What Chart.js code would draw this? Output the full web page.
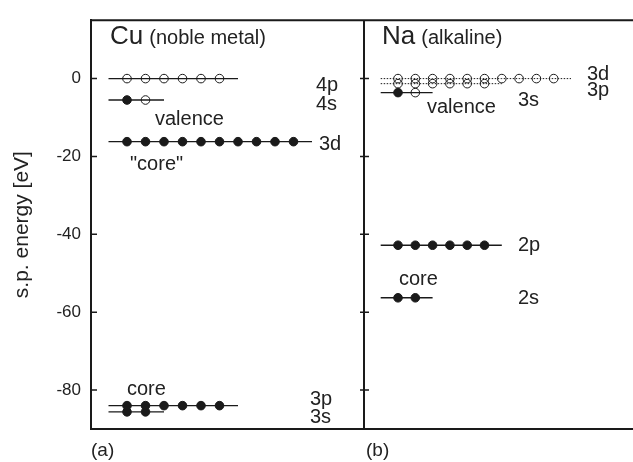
<!DOCTYPE html>
<html>
<head>
<meta charset="utf-8">
<script src="https://cdn.jsdelivr.net/npm/chart.js@4.4.0/dist/chart.umd.min.js"></script>
<style>
  html, body { margin: 0; padding: 0; background: #fff; }
</style>
</head>
<body>
<canvas id="myChart" width="633" height="462"></canvas>
<script>
// single-particle levels, energies in eV
const cuLevels = ['4p', '4s', '3d', '3p', '3s'];
const cuEnergy = [0, -5.5, -16.2, -84.0, -85.6];
const cuStates = [6, 2, 10, 6, 2];
const cuFilled = [0, 1, 10, 6, 2];

const naLevels = ['3d', '3p', '3s', '2p', '2s'];
const naEnergy = [0, -1.3, -3.6, -42.8, -56.3];
const naStates = [10, 6, 2, 6, 2];
const naFilled = [0, 0, 1, 6, 2];
const naDotted = [true, true, false, false, false];

const yTicks = [0, -20, -40, -60, -80];

// layout (x in px from the left axis)
const FONT = '"Liberation Sans", Arial, sans-serif';
const INK = '#1a1a1a';
const cuPanel = { origin: 36, step: 18.5, labelX: [225, 225, 228, 219, 219], labelDy: [7, 4, 3, -6, 6] };
const naPanel = { origin: 307, step: 17.3, labelX: [496, 496, 427, 427, 427], labelDy: [-4, 7, 8, 0, 1] };
const divider = 273;

function levelSets(names, energy, states, filled, dotted, p) {
    return names.map((name, k) => {
        var pts = [{ x: p.origin - p.step, y: energy[k] }];
        for (let i = 0; i < states[k]; i++) {
            pts.push({ x: p.origin + i * p.step, y: energy[k] });
        }
        pts.push({ x: p.origin + states[k] * p.step, y: energy[k] });
        var dot = dotted && dotted[k];
        return {
            label: name,
            data: pts,
            showLine: true,
            borderColor: INK,
            borderWidth: dot ? 1 : 1.4,
            borderDash: dot ? [1.5, 1.5] : [],
            pointRadius: pts.map((_, i) => (i === 0 || i === pts.length - 1) ? 0 : 4.3),
            pointBackgroundColor: pts.map((_, i) => (i >= 1 && i <= filled[k]) ? INK : 'rgba(0,0,0,0)'),
            pointBorderColor: INK,
            pointBorderWidth: 1
        };
    });
}

// free text, in x px / y eV
const notes = [
    { text: 'valence', x: 64, y: -10.6 },
    { text: '"core"', x: 39, y: -22.0 },
    { text: 'core', x: 36, y: -79.9 },
    { text: 'valence', x: 336, y: -7.4 },
    { text: 'core', x: 308, y: -51.5 }
];

const decor = {
    id: 'decor',
    afterDraw(chart) {
        const ctx = chart.ctx;
        const a = chart.chartArea;
        const xs = chart.scales.x;
        const ys = chart.scales.y;
        ctx.save();
        ctx.strokeStyle = INK;
        ctx.lineWidth = 2;
        ctx.beginPath();
        ctx.moveTo(a.left - 1, a.top);
        ctx.lineTo(a.right, a.top);
        const dx = xs.getPixelForValue(divider);
        ctx.moveTo(dx, a.top);
        ctx.lineTo(dx, a.bottom);
        ctx.stroke();

        // tick marks
        ctx.lineWidth = 1.5;
        ctx.beginPath();
        for (const v of yTicks) {
            const py = ys.getPixelForValue(v);
            ctx.moveTo(a.left, py);
            ctx.lineTo(a.left + 6, py);
            ctx.moveTo(dx - 4, py);
            ctx.lineTo(dx + 5, py);
        }
        ctx.stroke();

        ctx.fillStyle = '#222';
        ctx.textBaseline = 'middle';
        ctx.textAlign = 'left';
        ctx.font = '20px ' + FONT;
        cuLevels.forEach((n, k) => {
            ctx.fillText(n, xs.getPixelForValue(cuPanel.labelX[k]), ys.getPixelForValue(cuEnergy[k]) + cuPanel.labelDy[k]);
        });
        naLevels.forEach((n, k) => {
            ctx.fillText(n, xs.getPixelForValue(naPanel.labelX[k]), ys.getPixelForValue(naEnergy[k]) + naPanel.labelDy[k]);
        });
        for (const t of notes) {
            ctx.fillText(t.text, xs.getPixelForValue(t.x), ys.getPixelForValue(t.y));
        }

        // panel titles
        ctx.textBaseline = 'alphabetic';
        const titles = [['Cu', '(noble metal)', 19], ['Na', '(alkaline)', 291]];
        for (const [big, small, x] of titles) {
            const px = xs.getPixelForValue(x);
            ctx.font = '26px ' + FONT;
            ctx.fillText(big, px, 44);
            const w = ctx.measureText(big).width;
            ctx.font = '20px ' + FONT;
            ctx.fillText(small, px + w + 6, 44);
        }

        ctx.font = '19px ' + FONT;
        ctx.fillText('(a)', a.left, a.bottom + 27);
        ctx.fillText('(b)', dx + 2, a.bottom + 27);
        ctx.restore();
    }
};

const data = {
    datasets: levelSets(cuLevels, cuEnergy, cuStates, cuFilled, null, cuPanel)
        .concat(levelSets(naLevels, naEnergy, naStates, naFilled, naDotted, naPanel))
};

const config = {
    type: 'scatter',
    data: data,
    options: {
        responsive: false,
        animation: false,
        devicePixelRatio: 1,
        layout: { padding: { top: 11, right: 0, bottom: 33, left: 0 } },
        plugins: { legend: { display: false }, tooltip: { enabled: false } },
        scales: {
            x: {
                type: 'linear', min: 0, max: 542,
                grid: { display: false, drawTicks: false },
                ticks: { display: false },
                border: { display: true, color: INK, width: 2 },
                afterFit: s => { s.height = 0; }
            },
            y: {
                min: -90, max: 15,
                afterBuildTicks: s => { s.ticks = yTicks.map(v => ({ value: v })); },
                grid: { display: false, drawTicks: false },
                border: { display: true, color: INK, width: 2 },
                ticks: { color: '#222', padding: 10, font: { size: 17, family: FONT } },
                title: {
                    display: true, text: 's.p. energy [eV]', color: '#222',
                    font: { size: 21, family: FONT }, padding: { top: 10, bottom: 0 }
                },
                afterFit: s => { s.width = 91; }
            }
        }
    },
    plugins: [decor]
};

const myChart = new Chart(document.getElementById('myChart'), config);
</script>
</body>
</html>
